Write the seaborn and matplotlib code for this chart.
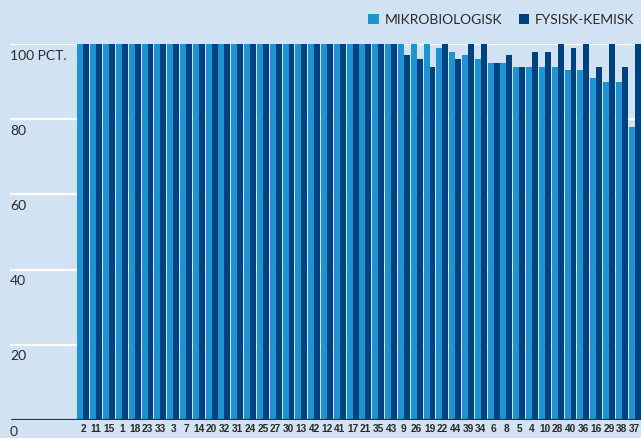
import numpy as np
import pandas as pd
import seaborn as sns
import matplotlib.pyplot as plt
from matplotlib.patches import Patch


categories = ["2", "11", "15", "1", "18", "23", "33", "3", "7", "14", "20", "32", "31",
              "24", "25", "27", "30", "13", "42", "12", "41", "17", "21", "35", "43",
              "9", "26", "19", "22", "44", "39", "34", "6", "8", "5", "4", "10", "28",
              "40", "36", "16", "29", "38", "37"]
mikro = [100] * 25 + [100, 100, 100, 99, 98, 97, 96, 95, 95, 94, 94, 94, 94,
                      93, 93, 91, 90, 90, 78]
fysisk = [100] * 25 + [97, 96, 94, 100, 96, 100, 100, 95, 97, 94, 98, 98, 100,
                       99, 100, 94, 100, 94, 100]
series_names = ["MIKROBIOLOGISK", "FYSISK-KEMISK"]
y_ticks = [0, 20, 40, 60, 80, 100]
y_labels = ["0", "20", "40", "60", "80", "100 PCT."]

BG = "#d1e3f2"
LIGHT = "#1d93d1"
DARK = "#00427f"

df = pd.DataFrame({
    "nr": categories * 2,
    "type": [series_names[0]] * len(categories) + [series_names[1]] * len(categories),
    "pct": mikro + fysisk,
})

sns.set_style("white")
plt.rcParams["font.family"] = ["Lato", "DejaVu Sans"]

fig = plt.figure(figsize=(6.41, 4.38), dpi=100, facecolor=BG)
# axes spans from the label column to the right edge
ax = fig.add_axes([10 / 641, 18 / 438, 631 / 641, 376 / 438])
ax.set_facecolor(BG)

sns.barplot(data=df, x="nr", y="pct", hue="type", order=categories, hue_order=series_names,
            palette=[LIGHT, DARK], width=0.93, saturation=1, ax=ax, legend=False,
            edgecolor="none", zorder=3)

# bars start at px 77 -> extend xlim to the left
px_per_unit = 564 / 44
ax.set_xlim(-0.5 - 67 / px_per_unit, 43.5)
ax.set_ylim(0, 100)

for v in y_ticks[1:]:
    ax.axhline(v, color="white", lw=1.6, zorder=1)
ax.axhline(0, color="#333333", lw=1.6, zorder=4, xmin=2 / 631)

ax.set_yticks([])
ax.set_xlabel("")
ax.set_ylabel("")
for s in ax.spines.values():
    s.set_visible(False)

for v, lab in zip(y_ticks, y_labels):
    ax.text(0, v - 1.5, lab, transform=ax.get_yaxis_transform(), ha="left", va="top",
            fontsize=10, color="#2a2a2a", clip_on=False)

ax.tick_params(axis="x", length=0, pad=3)
ax.set_xticks(range(len(categories)))
ax.set_xticklabels(categories, fontsize=7.3, color="#2a2a2a", fontweight="bold",
                   family=["Liberation Sans Narrow", "Liberation Sans", "DejaVu Sans"])

handles = [Patch(facecolor=LIGHT, edgecolor="none"), Patch(facecolor=DARK, edgecolor="none")]
fig.legend(handles, series_names, loc="center right", bbox_to_anchor=(1.0, 1 - 20 / 438),
           ncol=2, frameon=False, fontsize=10, handlelength=0.75, handleheight=0.75,
           handletextpad=0.4, columnspacing=1.2, labelcolor="#2a2a2a", borderaxespad=0.1)

fig.savefig("out.png", dpi=100, facecolor=BG)
